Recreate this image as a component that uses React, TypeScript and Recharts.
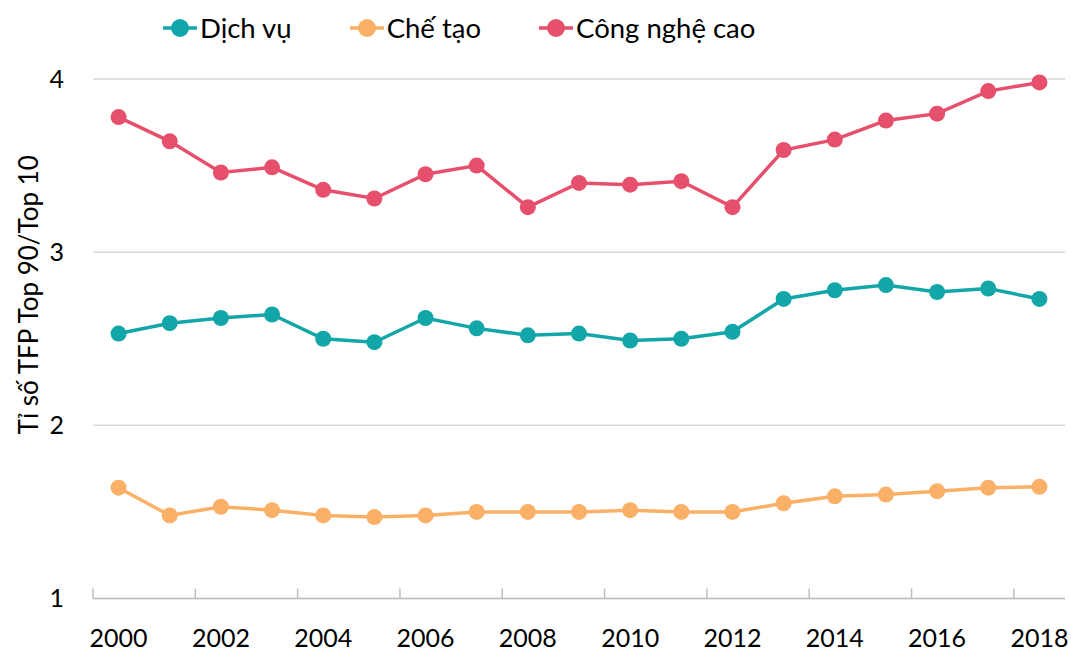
import React from 'react';
import { LineChart, Line, XAxis, YAxis, CartesianGrid, Legend, Label } from 'recharts';

const years = [2000, 2001, 2002, 2003, 2004, 2005, 2006, 2007, 2008, 2009, 2010, 2011, 2012, 2013, 2014, 2015, 2016, 2017, 2018];
const dichVu = [2.53, 2.59, 2.62, 2.64, 2.50, 2.48, 2.62, 2.56, 2.52, 2.53, 2.49, 2.50, 2.54, 2.73, 2.78, 2.81, 2.77, 2.79, 2.73];
const cheTao = [1.64, 1.48, 1.53, 1.51, 1.48, 1.47, 1.48, 1.50, 1.50, 1.50, 1.51, 1.50, 1.50, 1.55, 1.59, 1.60, 1.62, 1.64, 1.645];
const congNgheCao = [3.78, 3.64, 3.46, 3.49, 3.36, 3.31, 3.45, 3.50, 3.26, 3.40, 3.39, 3.41, 3.26, 3.59, 3.65, 3.76, 3.80, 3.93, 3.98];
const labelYears = [2000, 2002, 2004, 2006, 2008, 2010, 2012, 2014, 2016, 2018];
const yTicks = [1, 2, 3, 4];

const FONT = 'Lato, "Open Sans", sans-serif';

const series = [
  { key: 'dichVu', name: 'Dịch vụ', color: '#13A6A8' },
  { key: 'cheTao', name: 'Chế tạo', color: '#FAB067' },
  { key: 'congNgheCao', name: 'Công nghệ cao', color: '#E7506D' },
];

const data = years.map((year, i) => ({
  year,
  dichVu: dichVu[i],
  cheTao: cheTao[i],
  congNgheCao: congNgheCao[i],
}));

// tick marks sit on the category boundaries, labels on even years
const xTicks: number[] = [];
labelYears.forEach((y) => {
  xTicks.push(y - 0.5);
  xTicks.push(y);
});

const XTick = ({ x, y, payload }: any) => {
  const v = payload.value;
  if (Number.isInteger(v)) {
    return (
      <text x={x} y={y + 31} dy="0.71em" textAnchor="middle" fill="#000" fontSize={25} fontFamily={FONT}>
        {v}
      </text>
    );
  }
  return <line x1={x} x2={x} y1={y} y2={y - 10} stroke="#BFBFBF" strokeWidth={1.5} />;
};

const CustomLegend = () => (
  <div style={{ display: 'flex', alignItems: 'center', gap: 58, fontFamily: FONT, fontSize: 27.5, color: '#000', lineHeight: '34px' }}>
    {series.map((s) => (
      <div key={s.key} style={{ display: 'flex', alignItems: 'center' }}>
        <svg width={34} height={20} style={{ marginRight: 3 }}>
          <line x1={0} x2={34} y1={10} y2={10} stroke={s.color} strokeWidth={3.5} />
          <circle cx={17} cy={10} r={9} fill={s.color} />
        </svg>
        <span>{s.name}</span>
      </div>
    ))}
  </div>
);

const YLabel = ({ viewBox }: any) => {
  const cx = viewBox.x + 28;
  const cy = viewBox.y + viewBox.height / 2 - 44;
  return (
    <text
      x={cx}
      y={cy}
      transform={`rotate(-90 ${cx} ${cy})`}
      textAnchor="middle"
      dominantBaseline="central"
      fontSize={26}
      fontFamily={FONT}
      fill="#000"
    >
      Tỉ số TFP Top 90/Top 10
    </text>
  );
};

export default function App() {
  return (
    <div style={{ position: 'absolute', left: 0, top: 0, width: 1071, height: 651, background: '#fff' }}>
      <LineChart width={1071} height={651} data={data} margin={{ top: 79, right: 6, bottom: 0, left: 0 }}>
        <CartesianGrid vertical={false} stroke="#D9D9D9" strokeWidth={1.5} />
        <XAxis
          dataKey="year"
          type="number"
          domain={[1999.5, 2018.5]}
          ticks={xTicks}
          interval={0}
          tick={<XTick />}
          tickLine={false}
          tickSize={0}
          tickMargin={0}
          height={52.5}
          stroke="#BFBFBF"
          strokeWidth={1.5}
        />
        <YAxis
          domain={[1, 4]}
          ticks={yTicks}
          width={93}
          axisLine={false}
          tickLine={false}
          tickSize={0}
          tickMargin={29}
          tick={{ fill: '#000', fontSize: 25, fontFamily: FONT }}
        >
          <Label content={<YLabel />} />
        </YAxis>
        <Legend
          verticalAlign="middle"
          align="center"
          layout="horizontal"
          content={<CustomLegend />}
          wrapperStyle={{ top: 11, left: 163, width: 'auto' }}
        />
        {series.map((s) => (
          <Line
            key={s.key}
            dataKey={s.key}
            name={s.name}
            stroke={s.color}
            strokeWidth={3.5}
            dot={{ r: 8, fill: s.color, stroke: s.color, strokeWidth: 0 }}
            activeDot={false}
            isAnimationActive={false}
          />
        ))}
      </LineChart>
    </div>
  );
}
